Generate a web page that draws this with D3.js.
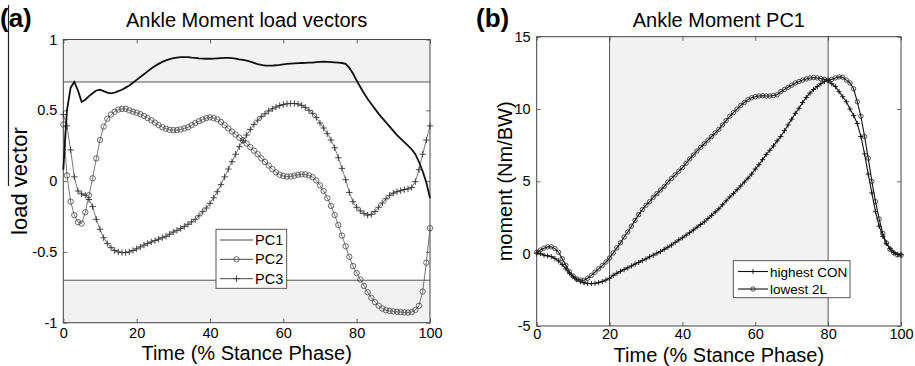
<!DOCTYPE html>
<html><head><meta charset="utf-8">
<script src="https://cdn.jsdelivr.net/npm/d3@7"></script>
<style>body{margin:0;background:#fff}svg{display:block;font-family:"Liberation Sans",Arial,sans-serif}</style>
</head><body><svg id="c" width="915" height="366"></svg>
<script>
// ---------- DATA ----------
const stance = d3.range(0, 101); // % stance phase, 0..100
const xTicks = [0, 20, 40, 60, 80, 100];
const yTicksA = [-1, -0.5, 0, 0.5, 1];
const yTicksB = [-5, 0, 5, 10, 15];
const thresholdsA = [-0.7, 0.7];
const shadeB = [20, 80];
const seriesNamesA = ["PC1", "PC2", "PC3"];
const seriesNamesB = ["highest CON", "lowest 2L"];

const pc1 = [0.08,0.50,0.66,0.70,0.64,0.56,0.575,0.60,0.62,0.64,
 0.645,0.635,0.625,0.62,0.625,0.635,0.645,0.66,0.675,0.695,
 0.715,0.735,0.755,0.775,0.795,0.812,0.828,0.842,0.853,0.862,
 0.868,0.872,0.875,0.876,0.875,0.872,0.87,0.867,0.865,0.864,
 0.864,0.865,0.867,0.869,0.87,0.87,0.868,0.865,0.86,0.856,
 0.85,0.843,0.835,0.826,0.82,0.816,0.815,0.816,0.818,0.821,
 0.825,0.828,0.83,0.832,0.833,0.834,0.835,0.836,0.837,0.84,
 0.842,0.843,0.842,0.84,0.838,0.836,0.834,0.828,0.80,0.76,
 0.71,0.665,0.62,0.58,0.545,0.51,0.475,0.445,0.415,0.385,
 0.355,0.325,0.30,0.275,0.25,0.225,0.19,0.135,0.07,-0.01,-0.12];
const pc2 = [0.40,0.04,-0.145,-0.24,-0.29,-0.30,-0.22,-0.10,0.02,0.16,
 0.29,0.385,0.44,0.47,0.49,0.505,0.51,0.51,0.50,0.49,
 0.483,0.473,0.46,0.445,0.43,0.413,0.396,0.38,0.37,0.362,
 0.36,0.36,0.365,0.372,0.38,0.395,0.41,0.423,0.435,0.445,
 0.45,0.445,0.436,0.418,0.395,0.372,0.35,0.328,0.307,0.288,
 0.265,0.24,0.215,0.19,0.16,0.135,0.11,0.085,0.062,0.045,
 0.036,0.032,0.033,0.038,0.045,0.048,0.047,0.04,0.028,0.005,
 -0.03,-0.07,-0.12,-0.175,-0.24,-0.31,-0.385,-0.46,-0.535,-0.6,
 -0.65,-0.695,-0.74,-0.785,-0.825,-0.855,-0.88,-0.9,-0.912,-0.917,
 -0.92,-0.923,-0.925,-0.927,-0.928,-0.925,-0.91,-0.88,-0.78,-0.576,-0.333];
const pc3 = [0.47,0.39,0.22,0.03,-0.07,-0.09,-0.10,-0.13,-0.18,-0.27,
 -0.34,-0.40,-0.44,-0.47,-0.49,-0.50,-0.505,-0.505,-0.50,-0.49,
 -0.478,-0.465,-0.452,-0.44,-0.43,-0.42,-0.41,-0.40,-0.39,-0.375,
 -0.36,-0.348,-0.335,-0.32,-0.305,-0.288,-0.27,-0.245,-0.216,-0.19,
 -0.157,-0.118,-0.075,-0.025,0.03,0.085,0.137,0.19,0.243,0.285,
 0.325,0.365,0.40,0.43,0.455,0.475,0.495,0.51,0.523,0.533,
 0.54,0.546,0.548,0.548,0.545,0.535,0.52,0.50,0.478,0.45,
 0.41,0.375,0.335,0.29,0.235,0.165,0.09,0.01,-0.08,-0.145,
 -0.185,-0.21,-0.228,-0.24,-0.235,-0.215,-0.185,-0.155,-0.125,-0.10,
 -0.085,-0.075,-0.068,-0.06,-0.055,-0.045,-0.004,0.08,0.19,0.29,0.39];
const highestCON = [0.05,0.0,-0.1,-0.15,-0.2,-0.33,-0.5,-0.75,-1.05,-1.35,
 -1.6,-1.8,-1.93,-2.02,-2.06,-2.07,-2.05,-2.0,-1.93,-1.82,
 -1.7,-1.5,-1.35,-1.22,-1.1,-0.98,-0.85,-0.72,-0.6,-0.48,
 -0.36,-0.22,-0.1,0.03,0.15,0.3,0.45,0.6,0.78,0.95,
 1.1,1.28,1.45,1.64,1.83,2.02,2.2,2.42,2.65,2.88,
 3.1,3.38,3.65,3.92,4.15,4.42,4.68,4.95,5.22,5.5,
 5.85,6.15,6.5,6.85,7.15,7.45,7.8,8.1,8.5,8.9,
 9.3,9.7,10.05,10.45,10.8,11.1,11.35,11.55,11.75,11.9,
 11.95,11.75,11.55,11.2,10.85,10.5,10.0,9.55,9.0,8.1,
 6.9,5.5,4.2,2.9,1.9,1.2,0.7,0.35,0.1,-0.05,-0.07];
const lowest2L = [0.1,0.25,0.38,0.47,0.48,0.35,0.1,-0.35,-0.8,-1.25,
 -1.55,-1.75,-1.82,-1.84,-1.7,-1.5,-1.28,-1.05,-0.82,-0.58,
 -0.3,0.05,0.4,0.75,1.15,1.5,1.9,2.3,2.7,3.05,
 3.35,3.6,3.9,4.15,4.4,4.65,4.95,5.2,5.45,5.7,
 5.95,6.25,6.55,6.82,7.1,7.35,7.6,7.85,8.1,8.35,
 8.6,8.9,9.2,9.5,9.75,10.0,10.25,10.45,10.65,10.78,
 10.85,10.9,10.92,10.9,10.9,10.93,10.98,11.2,11.35,11.5,
 11.65,11.8,11.9,12.0,12.08,12.15,12.18,12.15,12.1,12.05,
 12.0,12.05,12.15,12.22,12.2,12.0,11.8,11.4,10.5,9.5,
 8.1,6.6,5.0,3.6,2.4,1.4,0.75,0.3,0.05,-0.08,-0.1];

// ---------- DRAW ----------
const svg = d3.select("#c");
const shade = "#f2f2f2", frame = "#444";

function plusPath(s){ return `M${-s},0H${s}M0,${-s}V${s}`; }

function panel(o){
  const g = svg.append("g");
  const x = d3.scaleLinear().domain([0,100]).range([o.x0,o.x1]);
  const y = d3.scaleLinear().domain(o.ydom).range([o.y1,o.y0]);
  o.shadeFn(g,x,y);
  const fmt = d => String(d);
  const axB = g.append("g").attr("transform",`translate(0,${o.y1})`)
    .call(d3.axisBottom(x).tickValues(xTicks).tickSizeInner(-4).tickSizeOuter(0).tickPadding(o.xpad).tickFormat(fmt));
  const axT = g.append("g").attr("transform",`translate(0,${o.y0})`)
    .call(d3.axisTop(x).tickValues(xTicks).tickSizeInner(-4).tickSizeOuter(0).tickFormat(""));
  const axL = g.append("g").attr("transform",`translate(${o.x0},0)`)
    .call(d3.axisLeft(y).tickValues(o.yticks).tickSizeInner(-4).tickSizeOuter(0).tickPadding(6).tickFormat(fmt));
  const axR = g.append("g").attr("transform",`translate(${o.x1},0)`)
    .call(d3.axisRight(y).tickValues(o.yticks).tickSizeInner(-4).tickSizeOuter(0).tickFormat(""));
  [axB,axT,axL,axR].forEach(a=>{
    a.select(".domain").remove();
    a.selectAll("line").attr("stroke",frame).attr("stroke-width",0.8);
    a.selectAll("text").attr("font-size",14.5).attr("fill","#000")
      .attr("font-family","'Liberation Sans',Arial,sans-serif");
  });
  g.append("rect").attr("x",o.x0).attr("y",o.y0).attr("width",o.x1-o.x0).attr("height",o.y1-o.y0)
    .attr("fill","none").attr("stroke",frame).attr("stroke-width",1);
  const cx = (o.x0+o.x1)/2, cy=(o.y0+o.y1)/2;
  g.append("text").attr("x",cx).attr("y",27).attr("text-anchor","middle").attr("font-size",20).text(o.title);
  g.append("text").attr("x",cx).attr("y",o.xty).attr("text-anchor","middle").attr("font-size",20).text("Time (% Stance Phase)");
  g.append("text").attr("transform",`translate(${o.ylx},${cy}) rotate(-90)`).attr("text-anchor","middle")
    .attr("font-size",o.ylfs).text(o.ylabel);
  g.append("text").attr("x",o.tagx).attr("y",27).attr("font-size",26).attr("font-weight","bold").text(o.tag);
  return {g,x,y};
}

// Panel (a)
const A = panel({x0:63.3,x1:430,y0:39.5,y1:322.7,ydom:[-1,1],yticks:yTicksA,xpad:5,xty:360,
  title:"Ankle Moment load vectors", ylabel:"load vector", ylx:27, ylfs:22, tag:"(a)", tagx:0,
  shadeFn:(g,x,y)=>{
    g.append("rect").attr("x",x(0)).attr("width",x(100)-x(0)).attr("y",y(1)).attr("height",y(thresholdsA[1])-y(1)).attr("fill",shade);
    g.append("rect").attr("x",x(0)).attr("width",x(100)-x(0)).attr("y",y(thresholdsA[0])).attr("height",y(-1)-y(thresholdsA[0])).attr("fill",shade);
    thresholdsA.forEach(t=>g.append("line").attr("x1",x(0)).attr("x2",x(100)).attr("y1",y(t)).attr("y2",y(t))
      .attr("stroke","#555").attr("stroke-width",1));
  }});
svg.append("line").attr("x1",8.5).attr("x2",8.5).attr("y1",5).attr("y2",186).attr("stroke","#222").attr("stroke-width",1.2);

{
  const {g,x,y} = A;
  const line = d3.line().x((d,i)=>x(stance[i])).y(d=>y(d));
  g.append("path").attr("d",line(pc2)).attr("fill","none").attr("stroke","#555").attr("stroke-width",0.8);
  g.append("path").attr("d",line(pc3)).attr("fill","none").attr("stroke","#555").attr("stroke-width",0.8);
  g.selectAll(".m2").data(pc2).join("circle").attr("cx",(d,i)=>x(stance[i])).attr("cy",d=>y(d)).attr("r",2.7)
    .attr("fill","none").attr("stroke","#444").attr("stroke-width",0.8);
  g.selectAll(".m3").data(pc3).join("path").attr("transform",(d,i)=>`translate(${x(stance[i])},${y(d)})`)
    .attr("d",plusPath(3.2)).attr("stroke","#333").attr("stroke-width",0.9);
  g.append("path").attr("d",line(pc1)).attr("fill","none").attr("stroke","#111").attr("stroke-width",1.8);
  const L = g.append("g");
  L.append("rect").attr("x",216).attr("y",229.3).attr("width",70.7).attr("height",59).attr("fill","#fff").attr("stroke","#444").attr("stroke-width",0.9);
  const ly = [240,259.3,278.7];
  seriesNamesA.forEach((n,i)=>{
    L.append("line").attr("x1",220).attr("x2",253).attr("y1",ly[i]).attr("y2",ly[i]).attr("stroke","#333").attr("stroke-width",0.9);
    if(i===1) L.append("circle").attr("cx",236.5).attr("cy",ly[i]).attr("r",2.7).attr("fill","none").attr("stroke","#444").attr("stroke-width",0.8);
    if(i===2) L.append("path").attr("transform",`translate(236.5,${ly[i]})`).attr("d",plusPath(3.2)).attr("stroke","#333").attr("stroke-width",0.9);
    L.append("text").attr("x",255).attr("y",ly[i]+5).attr("font-size",14.5).text(n);
  });
}

// Panel (b)
const B = panel({x0:536.7,x1:901,y0:36.7,y1:326,ydom:[-5,15],yticks:yTicksB,xpad:3,xty:361.5,
  title:"Ankle Moment PC1", ylabel:"moment (Nm/BW)", ylx:512, ylfs:20, tag:"(b)", tagx:476,
  shadeFn:(g,x,y)=>{
    g.append("rect").attr("x",x(shadeB[0])).attr("width",x(shadeB[1])-x(shadeB[0])).attr("y",y(15)).attr("height",y(-5)-y(15)).attr("fill",shade);
    shadeB.forEach(t=>g.append("line").attr("x1",x(t)).attr("x2",x(t)).attr("y1",y(15)).attr("y2",y(-5))
      .attr("stroke","#555").attr("stroke-width",1));
  }});
{
  const {g,x,y} = B;
  const line = d3.line().x((d,i)=>x(stance[i])).y(d=>y(d));
  g.append("path").attr("d",line(highestCON)).attr("fill","none").attr("stroke","#111").attr("stroke-width",1.1);
  g.append("path").attr("d",line(lowest2L)).attr("fill","none").attr("stroke","#111").attr("stroke-width",1.1);
  g.selectAll(".mc").data(highestCON).join("path").attr("transform",(d,i)=>`translate(${x(stance[i])},${y(d)})`)
    .attr("d",plusPath(2.6)).attr("stroke","#111").attr("stroke-width",0.9);
  g.selectAll(".ml").data(lowest2L).join("circle").attr("cx",(d,i)=>x(stance[i])).attr("cy",d=>y(d)).attr("r",2.2)
    .attr("fill","none").attr("stroke","#222").attr("stroke-width",0.8);
  const L = g.append("g");
  L.append("rect").attr("x",733.3).attr("y",260.7).attr("width",116.7).attr("height",37).attr("fill","#fff").attr("stroke","#444").attr("stroke-width",0.9);
  const ly = [271.5,289];
  seriesNamesB.forEach((n,i)=>{
    L.append("line").attr("x1",738).attr("x2",768).attr("y1",ly[i]).attr("y2",ly[i]).attr("stroke","#111").attr("stroke-width",1.1);
    if(i===0) L.append("path").attr("transform",`translate(753,${ly[i]})`).attr("d",plusPath(2.6)).attr("stroke","#111").attr("stroke-width",0.9);
    else L.append("circle").attr("cx",753).attr("cy",ly[i]).attr("r",2.2).attr("fill","none").attr("stroke","#222").attr("stroke-width",0.8);
    L.append("text").attr("x",770).attr("y",ly[i]+5).attr("font-size",13.5).text(n);
  });
}
</script></body></html>
